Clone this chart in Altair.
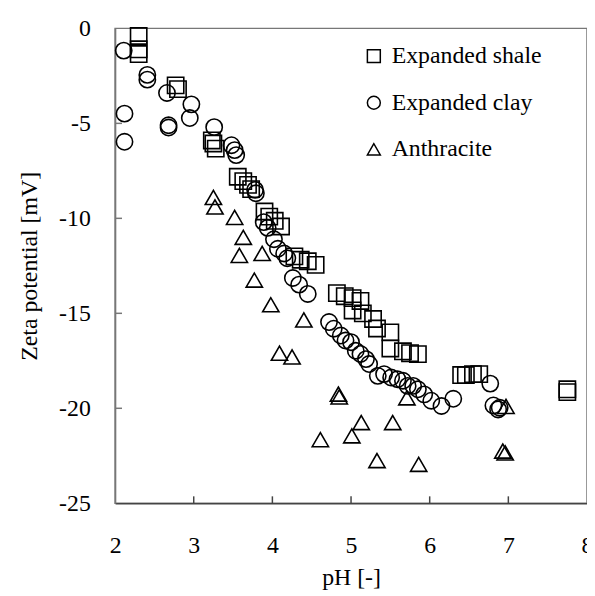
import altair as alt
import pandas as pd

# Expanded shale
shale_ph = [2.30, 2.30, 2.30, 2.77, 2.80, 3.23, 3.25, 3.28, 3.56, 3.63, 3.69, 3.73,
            3.90, 3.96, 4.03, 4.11, 4.28, 4.36, 4.45, 4.55, 4.82, 4.92, 5.02, 5.12,
            5.02, 5.15, 5.28, 5.33, 5.50, 5.50, 5.66, 5.75, 5.85, 6.40, 6.46, 6.55,
            6.63, 7.75, 7.75]
shale_z = [-0.4, -1.1, -1.35, -3.0, -3.2, -5.9, -6.06, -6.33, -7.81, -8.04, -8.24, -8.46,
           -9.64, -9.91, -10.13, -10.43, -12.0, -12.18, -12.26, -12.45, -13.94, -14.1, -14.2, -14.35,
           -14.85, -15.0, -15.3, -15.8, -16.0, -16.85, -17.0, -17.1, -17.15, -18.25, -18.25, -18.2,
           -18.2, -19.0, -19.15]

# Expanded clay
clay_ph = [2.11, 2.12, 2.12, 2.41, 2.41, 2.66, 2.68, 2.68, 2.97, 2.95, 3.26, 3.48,
           3.52, 3.54, 3.78, 3.79, 3.89, 3.94, 4.02, 4.07, 4.15, 4.19, 4.26, 4.34,
           4.45, 4.72, 4.78, 4.87, 4.93, 5.00, 5.06, 5.12, 5.19, 5.23, 5.34, 5.42,
           5.51, 5.59, 5.66, 5.72, 5.79, 5.85, 5.93, 6.02, 6.15, 6.30, 6.77, 6.81,
           6.89, 6.87]
clay_z = [-1.17, -4.49, -5.97, -2.45, -2.7, -3.4, -5.1, -5.22, -4.0, -4.72, -5.2, -6.15,
          -6.41, -6.67, -8.5, -8.68, -10.2, -10.5, -11.1, -11.6, -11.85, -12.1, -13.14, -13.49,
          -13.98, -15.46, -15.81, -16.17, -16.43, -16.52, -16.97, -17.14, -17.41, -17.67, -18.29, -18.2,
          -18.38, -18.47, -18.55, -18.82, -18.82, -19.0, -19.27, -19.6, -19.88, -19.5, -18.7, -19.85,
          -19.97, -20.06]

# Anthracite
anth_ph = [3.25, 3.27, 3.52, 3.63, 3.58, 3.87, 3.77, 3.98, 4.40, 4.09, 4.25, 4.61,
           4.84, 4.85, 5.01, 5.13, 5.53, 5.71, 5.33, 5.86, 6.97, 6.93, 6.96]
anth_z = [-8.9, -9.4, -9.95, -11.0, -11.95, -11.85, -13.25, -14.55, -15.35, -17.1, -17.3, -21.65,
          -19.25, -19.4, -21.45, -20.75, -20.75, -19.45, -22.75, -22.95, -19.9, -22.25, -22.35]

series_names = ["Expanded shale", "Expanded clay", "Anthracite"]
x_labels = [2, 3, 4, 5, 6, 7, 8]
y_labels = [0, -5, -10, -15, -20, -25]
x_ticks = [3, 4, 5, 6, 7]
y_ticks = [-5, -10, -15, -20]

FONT = "Liberation Serif"

df = pd.concat([
    pd.DataFrame({"pH": shale_ph, "zeta": shale_z, "series": series_names[0]}),
    pd.DataFrame({"pH": clay_ph, "zeta": clay_z, "series": series_names[1]}),
    pd.DataFrame({"pH": anth_ph, "zeta": anth_z, "series": series_names[2]}),
])

xscale = alt.Scale(domain=[2, 8], nice=False, zero=False)
yscale = alt.Scale(domain=[-25, 0], nice=False, zero=False)

points = alt.Chart(df).mark_point(filled=False, strokeWidth=1.6, color="black", opacity=1).encode(
    x=alt.X("pH:Q", scale=xscale,
            axis=alt.Axis(title="pH [-]", values=x_labels, ticks=False, grid=False,
                          labelExpr="datum.value + ''", labelFlush=False, labelOverlap=False,
                          labelPadding=31, titlePadding=8, domainColor="#444", domainWidth=1.5)),
    y=alt.Y("zeta:Q", scale=yscale,
            axis=alt.Axis(title="Zeta potential [mV]", values=y_labels, ticks=False,
                          labelExpr="datum.value + ''", labelFlush=False, labelOverlap=False,
                          grid=False, labelPadding=25, titlePadding=17, domainColor="#777",
                          domainWidth=1.5)),
    shape=alt.Shape("series:N",
                    scale=alt.Scale(domain=series_names, range=["square", "circle", "triangle-up"]),
                    legend=alt.Legend(title=None, orient="none", legendX=249, legendY=16,
                                      symbolSize=170, symbolStrokeColor="black",
                                      symbolFillColor="transparent", symbolStrokeWidth=1.5,
                                      labelFont=FONT, labelFontSize=24, labelColor="black",
                                      rowPadding=23, labelOffset=6)),
    size=alt.value(270),
)

xt = alt.Chart(pd.DataFrame({"v": x_ticks})).mark_rule(color="#444", strokeWidth=1.5).encode(
    x=alt.X("v:Q", scale=xscale), y=alt.value(479), y2=alt.value(472))
yt = alt.Chart(pd.DataFrame({"v": y_ticks})).mark_rule(color="#777", strokeWidth=1.5).encode(
    y=alt.Y("v:Q", scale=yscale), x=alt.value(0), x2=alt.value(7))

chart = alt.layer(points, xt, yt).properties(
    width=476, height=479,
    autosize=alt.AutoSizeParams(type="none"),
    padding={"left": 108, "top": 18, "right": 0, "bottom": 95},
).configure_view(stroke="#777", strokeWidth=1.5).configure_axis(
    labelFont=FONT, titleFont=FONT, labelFontSize=24, titleFontSize=24,
    labelColor="black", titleColor="black", titleFontWeight="normal",
)

chart.save("out.html", embed_options={"renderer": "svg", "actions": False})
